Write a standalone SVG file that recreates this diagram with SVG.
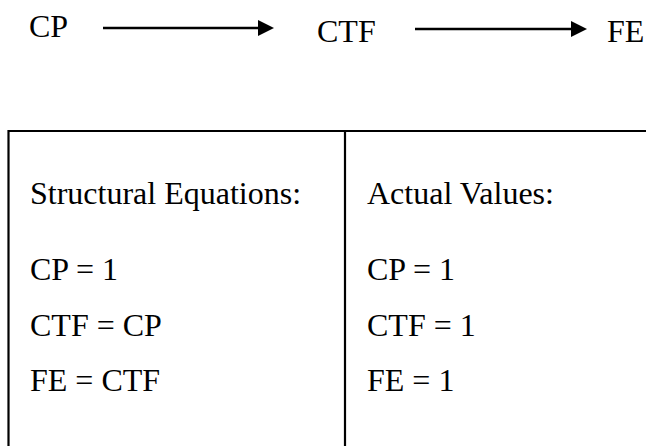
<svg xmlns="http://www.w3.org/2000/svg" width="646" height="446" viewBox="0 0 646 446">
<style>
  text { font-family: "Liberation Serif", "Times New Roman", serif; font-size: 32px; fill: #000; }
  .conn { stroke: #000; stroke-width: 2.5; fill: none; }
  .box { stroke: #000; stroke-width: 2.2; fill: none; }
</style>
<defs>
  <marker id="arrow" markerUnits="userSpaceOnUse" markerWidth="18" markerHeight="18" refX="12" refY="8" orient="auto">
    <path d="M0,0 L16,8 L0,16 Z" fill="#000"/>
  </marker>
</defs>
<rect width="646" height="446" fill="#fff"/>
<g id="node-CP"><text x="29" y="37">CP</text></g>
<g id="node-CTF"><text x="317" y="41.5">CTF</text></g>
<g id="node-FE"><text x="607" y="41.5">FE</text></g>
<g id="connectors">
  <line class="conn" x1="103" y1="28" x2="270" y2="28" marker-end="url(#arrow)"/>
  <line class="conn" x1="415" y1="29" x2="583" y2="29" marker-end="url(#arrow)"/>
</g>
<g id="table">
  <path class="box" d="M8.5,446 V131 H646 M345,131 V446"/>
  <text x="30" y="204">Structural Equations:</text>
  <text x="30" y="280">CP = 1</text>
  <text x="30" y="335.5">CTF = CP</text>
  <text x="30" y="391">FE = CTF</text>
  <text x="367" y="204">Actual Values:</text>
  <text x="367" y="280">CP = 1</text>
  <text x="367" y="335.5">CTF = 1</text>
  <text x="367" y="391">FE = 1</text>
</g>
</svg>
